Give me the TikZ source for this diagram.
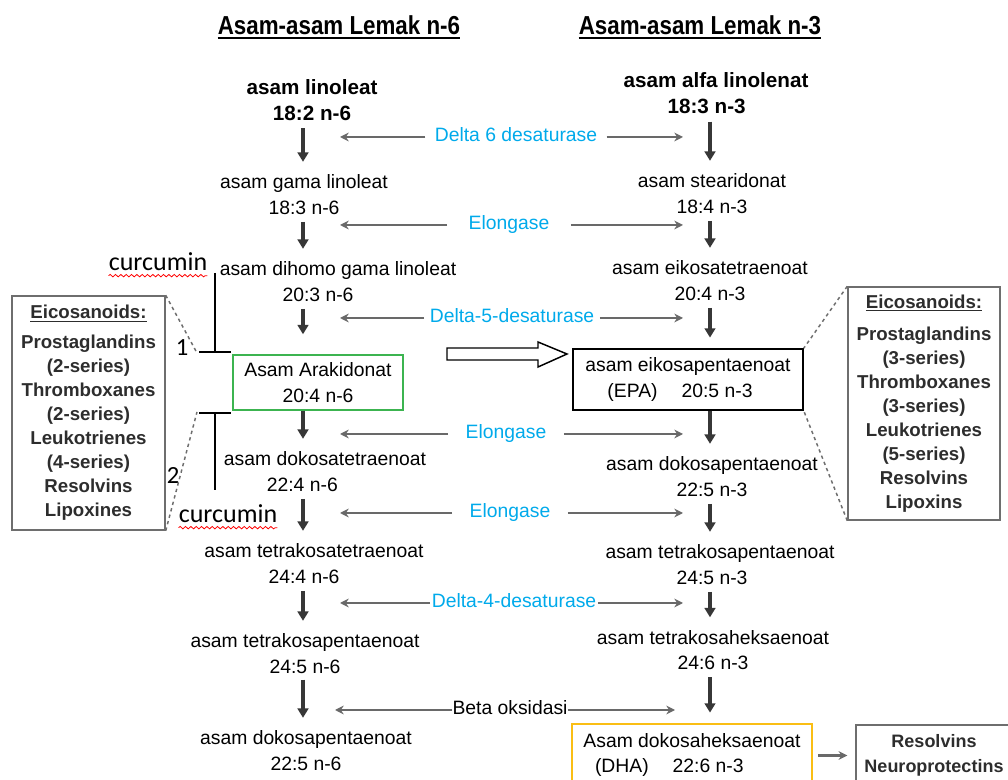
\documentclass[tikz,border=0pt]{standalone}
\usepackage{fontspec}
\setmainfont{Liberation Sans}
\newfontfamily\calib{Carlito}
\usetikzlibrary{arrows.meta,decorations.pathmorphing,calc}
\definecolor{enz}{RGB}{0,170,235}
\definecolor{harrc}{RGB}{105,105,105}
\definecolor{varrc}{RGB}{55,55,55}
\definecolor{boxgray}{RGB}{110,110,110}
\definecolor{eicotext}{RGB}{45,45,45}
\definecolor{aragreen}{RGB}{60,180,80}
\definecolor{dhagold}{RGB}{250,190,20}
\begin{document}
\begin{tikzpicture}[x=0.75pt,y=-0.75pt,
  ttl/.style={inner sep=0pt, font=\bfseries\fontsize{19.5pt}{22pt}\selectfont},
  sp/.style={inner sep=1.5pt, align=center, font=\fontsize{14.5pt}{19pt}\selectfont},
  spb/.style={inner sep=1.5pt, align=center, font=\bfseries\fontsize{15.5pt}{19.5pt}\selectfont},
  enzl/.style={inner ysep=0pt, text height=10pt, text depth=3pt, font=\fontsize{14.5pt}{17pt}\selectfont, text=enz},
  harr/.style={draw=harrc, line width=1.7pt, -{Stealth[length=6.5pt,width=6.5pt]}},
  varr/.style={draw=varrc, line width=2.4pt, -{Triangle[length=7pt,width=8pt]}},
  ebox/.style={draw=boxgray, line width=1.1pt, align=center, text=eicotext, font=\bfseries\fontsize{14pt}{18pt}\selectfont},
  dsh/.style={draw=boxgray, line width=1.1pt, dash pattern=on 2.5pt off 2.5pt},
  inh/.style={draw=black, line width=1.5pt, -{Bar[width=24pt,line width=1.5pt]}},
  cur/.style={inner sep=0pt, anchor=base, font=\calib\fontsize{19.5pt}{22pt}\selectfont},
  wavy/.style={draw=red, line width=0.6pt, decorate, decoration={snake, amplitude=0.9pt, segment length=4pt}},
  num/.style={inner sep=0pt, font=\calib\fontsize{18.5pt}{20pt}\selectfont}
]
\useasboundingbox (0,0) rectangle (1008,780);
\fill[white] (0,0) rectangle (1008,780);

% column coordinates
\coordinate (cL) at (303,0);
\coordinate (cR) at (710,0);
\coordinate (aL) at (340,0);
\coordinate (aR) at (683,0);
\coordinate (bL) at (335,0);
\coordinate (bR) at (675,0);

% titles
\node[ttl] (t6) at (339,25) {\scalebox{0.86}[1]{Asam-asam Lemak n-6}};
\node[ttl] (t3) at (700,25) {\scalebox{0.86}[1]{Asam-asam Lemak n-3}};
\draw[line width=1.8pt] ([yshift=-2.5pt]t6.south west) -- ([yshift=-2.5pt]t6.south east);
\draw[line width=1.8pt] ([yshift=-2.5pt]t3.south west) -- ([yshift=-2.5pt]t3.south east);

% n-6 column
\node[spb] (l1) at (312,100) {asam linoleat\\18:2 n-6};
\node[sp] (l2) at (304,194.5) {asam gama linoleat\\18:3 n-6};
\node[sp] (l3) at (338,281.5) {asam dihomo gama linoleat\\20:3 n-6\hspace*{30pt}};
\node[sp, draw=aragreen, line width=1.1pt, minimum width=127.5pt, minimum height=41.25pt] (ara) at (318,382.5) {Asam Arakidonat\\20:4 n-6};
\node[sp] (l5) at (325,471.5) {asam dokosatetraenoat\\22:4 n-6\hspace*{34pt}};
\node[sp] (l6) at (314,563.5) {asam tetrakosatetraenoat\\24:4 n-6\hspace*{15pt}};
\node[sp] (l7) at (305,653.5) {asam tetrakosapentaenoat\\24:5 n-6};
\node[sp] (l8) at (306,750.5) {asam dokosapentaenoat\\22:5 n-6};

% n-3 column
\node[spb] (r1) at (716,93.5) {asam alfa linolenat\\18:3 n-3\hspace*{14pt}};
\node[sp] (r2) at (712,193.5) {asam stearidonat\\18:4 n-3};
\node[sp] (r3) at (710,280.5) {asam eikosatetraenoat\\20:4 n-3};
\node[sp, draw=black, line width=1.1pt, minimum width=172.5pt, minimum height=45.75pt] (epa) at (688,379.5) {asam eikosapentaenoat\\(EPA)\hspace{18pt}20:5 n-3\hspace*{12pt}};
\node[sp] (r5) at (712,476.5) {asam dokosapentaenoat\\22:5 n-3};
\node[sp] (r6) at (720,564.5) {asam tetrakosapentaenoat\\24:5 n-3\hspace*{12pt}};
\node[sp] (r7) at (713,650) {asam tetrakosaheksaenoat\\24:6 n-3};
\node[sp, draw=dhagold, line width=1.1pt, minimum width=180pt, minimum height=46.5pt] (dha) at (692,755) {Asam dokosaheksaenoat\\(DHA)\hspace{18pt}22:6 n-3\hspace*{34pt}};
\node[draw=boxgray, line width=1.1pt, align=center, text=eicotext, minimum width=117pt, minimum height=45.75pt, font=\bfseries\fontsize{13.5pt}{18.75pt}\selectfont] (res) at (934,755.5) {Resolvins\\Neuroprotectins};

% vertical arrows n-6
\draw[varr, shorten <=4pt, shorten >=8pt] (l1.south -| cL) -- (l2.north -| cL);
\draw[varr, shorten <=4pt, shorten >=8pt] (l2.south -| cL) -- (l3.north -| cL);
\draw[varr, shorten <=4pt, shorten >=15pt] (l3.south -| cL) -- (ara.north -| cL);
\draw[varr, shorten <=0pt, shorten >=8pt] (ara.south -| cL) -- (l5.north -| cL);
\draw[varr, shorten <=4pt, shorten >=8pt] (l5.south -| cL) -- (l6.north -| cL);
\draw[varr, shorten <=4pt, shorten >=8pt] (l6.south -| cL) -- (l7.north -| cL);
\draw[varr, shorten <=3pt, shorten >=8pt] (l7.south -| cL) -- (l8.north -| cL);

% vertical arrows n-3
\draw[varr, shorten <=4pt, shorten >=8pt] (r1.south -| cR) -- (r2.north -| cR);
\draw[varr, shorten <=4pt, shorten >=8pt] (r2.south -| cR) -- (r3.north -| cR);
\draw[varr, shorten <=4pt, shorten >=8pt] (r3.south -| cR) -- (epa.north -| cR);
\draw[varr, shorten <=0pt, shorten >=8pt] (epa.south -| cR) -- (r5.north -| cR);
\draw[varr, shorten <=4pt, shorten >=8pt] (r5.south -| cR) -- (r6.north -| cR);
\draw[varr, shorten <=4pt, shorten >=8pt] (r6.south -| cR) -- (r7.north -| cR);
\draw[varr, shorten <=4pt, shorten >=8pt] (r7.south -| cR) -- (dha.north -| cR);

% enzyme labels and arrows
\node[enzl, inner xsep=7pt] (e1) at (516,137) {Delta 6 desaturase};
\node[enzl, inner xsep=16pt] (e2) at (509,225) {Elongase};
\node[enzl, inner xsep=4pt] (e3) at (512,318) {Delta-5-desaturase};
\node[enzl, inner xsep=13pt] (e4) at (506,434) {Elongase};
\node[enzl, inner xsep=13pt] (e5) at (510,513) {Elongase};
\node[enzl, inner xsep=1pt] (e6) at (514,603) {Delta-4-desaturase};
\node[enzl, inner xsep=0pt, text=black] (e7) at (510,710) {Beta oksidasi};
\foreach \e in {e1,e2,e3,e4,e5,e6}{
  \draw[harr] (\e.west) -- (\e.west -| aL);
  \draw[harr] (\e.east) -- (\e.east -| aR);
}
\draw[harr] (e7.west) -- (e7.west -| bL);
\draw[harr] (e7.east) -- (e7.east -| bR);

% hollow arrow AA -> EPA
\draw[line width=1.1pt, fill=white] (447,348) -- (538,348) -- (538,342) -- (567,354) -- (538,367) -- (538,360) -- (447,360) -- cycle;

% DHA -> resolvins
\draw[harr, shorten <=4pt, shorten >=6pt] (dha.east |- res.west) -- (res.west);

% eicosanoid boxes
\node[ebox, minimum width=114.75pt, minimum height=175.5pt] (eL) at (88.5,413) {\underline{Eicosanoids:}\\[4.5pt]Prostaglandins\\(2-series)\\Thromboxanes\\(2-series)\\Leukotrienes\\(4-series)\\Resolvins\\Lipoxines};
\node[ebox, minimum width=114pt, minimum height=174.75pt] (eR) at (924,403.5) {\underline{Eicosanoids:}\\[6pt]Prostaglandins\\(3-series)\\Thromboxanes\\(3-series)\\Leukotrienes\\(5-series)\\Resolvins\\Lipoxins};

% curcumin inhibition
\node[cur] (cur1) at (158,271) {curcumin};
\node[cur] (cur2) at (228,523) {curcumin};
\draw[wavy] ([yshift=-3.5pt]cur1.base west) -- ([yshift=-3.5pt]cur1.base east);
\draw[wavy] ([yshift=-3.5pt]cur2.base west) -- ([yshift=-3.5pt]cur2.base east);
\coordinate (i1t) at (215,273);
\coordinate (i1b) at (215,353);
\coordinate (i2t) at (215,412);
\coordinate (i2b) at (215,490);
\coordinate (b1L) at (197,353);
\coordinate (b2L) at (197,412);
\draw[inh] (i1t) -- (i1b);
\draw[inh] (i2b) -- (i2t);
\node[num] (n1) at (182,348) {1};
\node[num] (n2) at (173,475) {2};

% dashed links
\draw[dsh] (eL.north east) -- (b1L);
\draw[dsh] (eL.south east) -- (b2L);
\draw[dsh] (eR.north west) -- (epa.north east);
\draw[dsh] (eR.south west) -- (epa.south east);
\end{tikzpicture}
\end{document}
